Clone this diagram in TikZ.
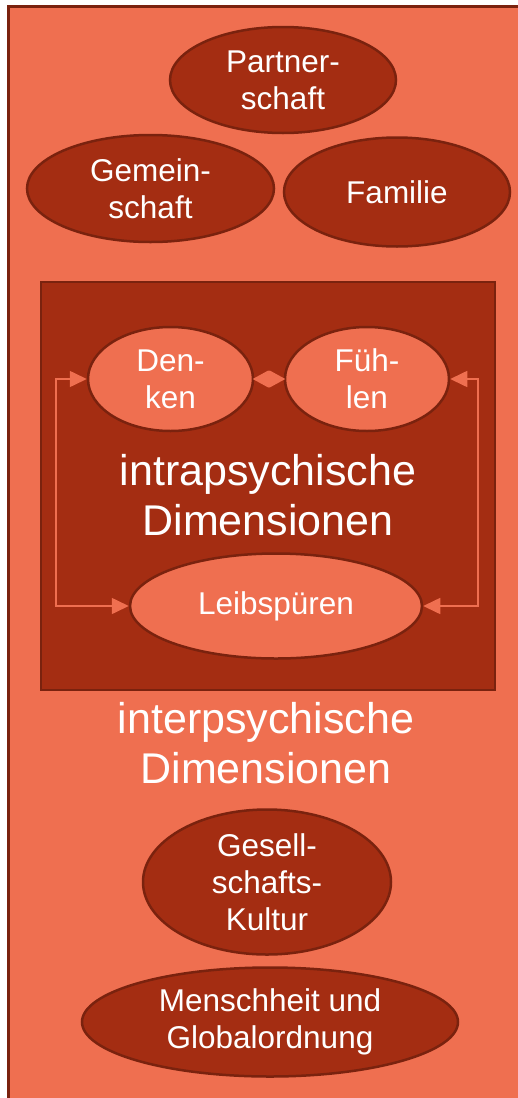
\documentclass[tikz,border=0pt]{standalone}
\usepackage{fontspec}
\setmainfont{Liberation Sans}
\usetikzlibrary{shapes.geometric,arrows.meta}
\definecolor{bgorange}{RGB}{239,111,80}
\definecolor{rust}{RGB}{164,45,18}
\definecolor{edgebrown}{RGB}{122,34,14}

\begin{document}
\begin{tikzpicture}[x=1pt,y=-1pt,
  bubble/.style={ellipse, draw=edgebrown, line width=2.5pt, inner sep=0pt,
    text=white, align=center, font=\fontsize{31.5}{37}\selectfont},
  darkbubble/.style={bubble, fill=rust},
  lightbubble/.style={bubble, fill=bgorange},
  biglabel/.style={text=white, align=center, font=\fontsize{43}{50}\selectfont},
  link/.style={draw=bgorange, line width=1.6pt},
  tri/.tip={Triangle[length=17pt,width=16pt]},
  dia/.tip={Diamond[length=31pt,width=17pt]}
]
\useasboundingbox (0,0) rectangle (518,1098);
\fill[white] (0,0) rectangle (518,1098);

% outer frame: interpersonal space
\begin{scope}
  \clip (0,0) rectangle (518,1098);
  \draw[draw=edgebrown, fill=bgorange, line width=3pt] (8.5,6.5) rectangle (560,1130);
\end{scope}

% social circles
\node[darkbubble, minimum width=226pt, minimum height=106pt] (partner) at (283,80) {Partner-\\schaft};
\node[darkbubble, minimum width=247pt, minimum height=107pt] (gemein) at (150.5,188.5) {Gemein-\\schaft};
\node[darkbubble, minimum width=226pt, minimum height=109pt] (familie) at (397,192) {Familie};

% inner box: intrapsychic dimensions
\node[draw=edgebrown, fill=rust, line width=2.5pt, inner sep=0pt,
      minimum width=454pt, minimum height=408pt] (intra) at (268,486) {};

\node[lightbubble, minimum width=165pt, minimum height=104pt] (denken) at (170.5,379) {Den-\\ken};
\node[lightbubble, minimum width=164pt, minimum height=104pt] (fuehlen) at (367,379) {Füh-\\len};
\node[lightbubble, minimum width=292pt, minimum height=105pt] (leib) at (276,606) {Leibspüren};

\node[biglabel] (intralabel) at (268,495) {intrapsychische\\Dimensionen};

% connectors between the inner dimensions
\draw[link, dia-dia] (denken.east) -- (fuehlen.west);
\draw[link, tri-tri] (denken.west) -- ++(-31,0) |- (leib.west);
\draw[link, tri-tri] (fuehlen.east) -- ++(28,0) |- (leib.east);

\node[biglabel] (interlabel) at (266,743) {interpsychische\\Dimensionen};

% wider social circles
\node[darkbubble, minimum width=248pt, minimum height=145pt] (gesell) at (267,882) {Gesell-\\schafts-\\Kultur};
\node[darkbubble, minimum width=376pt, minimum height=109pt] (menschheit) at (270,1022) {Menschheit und\\Globalordnung};
\end{tikzpicture}
\end{document}
